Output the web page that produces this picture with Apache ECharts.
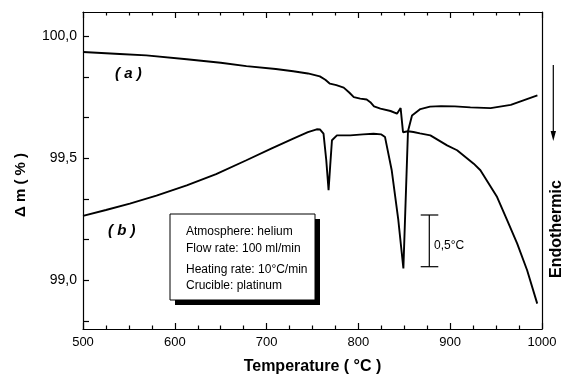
<!DOCTYPE html>
<html lang="en">
<head>
    <meta charset="UTF-8">
    <title>TG / DTA</title>
    <script src="https://cdn.jsdelivr.net/npm/echarts@6/dist/echarts.min.js"></script>
    <style>
        body { margin: 0; background: #fff; }
    </style>
</head>
<body>
<div id="main" style="width: 565px; height: 381px;"></div>
</body>
<script>
    // ---- data ----
    // curve (a): mass loss
    var tempA = [500, 540, 569, 613, 650, 678, 710, 729, 745, 758, 764, 769, 776, 784, 790, 795, 802, 809, 813, 817,
        824, 835, 842, 846, 848.6, 854, 858.4, 867.5, 878, 890, 905, 922, 944, 966, 995]
    var massA = [99.936, 99.928, 99.922, 99.906, 99.892, 99.878, 99.866, 99.857, 99.848, 99.836, 99.822, 99.806, 99.800,
        99.790, 99.770, 99.751, 99.745, 99.741, 99.730, 99.713, 99.704, 99.694, 99.683, 99.706, 99.607, 99.611, 99.676,
        99.702, 99.712, 99.714, 99.713, 99.709, 99.706, 99.719, 99.758]
    // curve (b): DTA trace drawn on the same axes
    var tempB = [500, 525, 551, 580, 613, 645, 678, 705, 729, 745, 754.6, 758.3, 762, 765, 767.5, 769.3, 771.2, 776.6,
        791, 805, 816.5, 825, 829, 836.3, 843.5, 849, 854, 860, 867, 878.4, 896.6, 907.5, 925.6, 932.9, 951.1, 962,
        973, 983.8, 994.8]
    var dtaB = [99.264, 99.288, 99.314, 99.347, 99.389, 99.435, 99.492, 99.540, 99.581, 99.607, 99.619, 99.618, 99.601,
        99.492, 99.369, 99.471, 99.574, 99.594, 99.594, 99.598, 99.601, 99.598, 99.587, 99.451, 99.246, 99.048, 99.611,
        99.608, 99.602, 99.594, 99.553, 99.533, 99.478, 99.451, 99.341, 99.246, 99.150, 99.041, 98.904]

    var xTickLabels = [500, 600, 700, 800, 900, 1000]
    var yLabelValues = [99.0, 99.5, 100.0]
    var yTickValues = [98.8333, 99.0, 99.1667, 99.3333, 99.5, 99.6667, 99.8333, 100.0]
    var boxLines = ['Atmosphere: helium', 'Flow rate: 100 ml/min', 'Heating rate: 10°C/min', 'Crucible: platinum']

    function zip(xs, ys) {
        return xs.map(function (x, i) { return [x, ys[i]] })
    }

    var font = 'Liberation Sans, Arial, sans-serif'
    var myChart = echarts.init(document.getElementById('main'))

    var xBase = {
        type: 'value',
        min: xTickLabels[0],
        max: xTickLabels[xTickLabels.length - 1],
        interval: 100,
        axisLine: { show: true, lineStyle: { color: '#000', width: 1.2 } },
        axisTick: { show: true, inside: true, length: 6, lineStyle: { color: '#000', width: 1.2 } },
        minorTick: { show: true, splitNumber: 4, length: 3.5, lineStyle: { color: '#000', width: 1.2 } },
        splitLine: { show: false }
    }

    var option = {
        animation: false,
        backgroundColor: '#fff',
        grid: { left: 83, right: 23, top: 12, bottom: 52 },
        xAxis: [
            Object.assign({}, xBase, {
                position: 'bottom',
                name: 'Temperature ( °C )',
                nameLocation: 'middle',
                nameGap: 30,
                nameTextStyle: { color: '#000', fontSize: 16, fontWeight: 'bold', fontFamily: font },
                axisLabel: {
                    color: '#000', fontSize: 13, margin: 7, fontFamily: font,
                    formatter: function (v) { return String(v) }
                }
            }),
            Object.assign({}, xBase, {
                position: 'top',
                axisLabel: { show: false }
            })
        ],
        yAxis: [
            {
                type: 'value',
                min: 98.8,
                max: 100.1,
                position: 'left',
                axisLine: { show: true, lineStyle: { color: '#000', width: 1.2 } },
                axisTick: { show: true, inside: true, length: 6, customValues: yTickValues, lineStyle: { color: '#000', width: 1.2 } },
                axisLabel: {
                    color: '#000', fontSize: 14, margin: 6, fontFamily: font,
                    customValues: yLabelValues,
                    formatter: function (v) { return v.toFixed(1).replace('.', ',') }
                },
                splitLine: { show: false }
            },
            {
                type: 'value',
                min: 98.8,
                max: 100.1,
                position: 'right',
                axisLine: { show: true, lineStyle: { color: '#000', width: 1.2 } },
                axisTick: { show: false },
                axisLabel: { show: false },
                splitLine: { show: false }
            }
        ],
        graphic: [
            // y axis title (sits a bit below the middle in the original)
            {
                type: 'text', x: 21, y: 185, rotation: Math.PI / 2,
                style: { text: 'Δ m ( % )', font: 'bold 15px ' + font, fill: '#000', align: 'center', verticalAlign: 'middle' }
            },
            // label (a) and (b)
            { type: 'text', left: 115, top: 66, style: { text: '( a )', font: 'italic bold 15px ' + font, fill: '#000' } },
            { type: 'text', left: 108, top: 223, style: { text: '( b )', font: 'italic bold 15px ' + font, fill: '#000' } },
            // conditions box with shadow
            { type: 'rect', shape: { x: 175, y: 219, width: 145, height: 86 }, style: { fill: '#000' } },
            { type: 'rect', shape: { x: 170, y: 214, width: 145, height: 86 }, style: { fill: '#fff', stroke: '#000', lineWidth: 1 } },
            { type: 'text', x: 186, y: 231.7, style: { text: boxLines[0], font: '12px ' + font, fill: '#000', verticalAlign: 'middle' } },
            { type: 'text', x: 186, y: 248.3, style: { text: boxLines[1], font: '12px ' + font, fill: '#000', verticalAlign: 'middle' } },
            { type: 'text', x: 186, y: 269.3, style: { text: boxLines[2], font: '12px ' + font, fill: '#000', verticalAlign: 'middle' } },
            { type: 'text', x: 186, y: 285.7, style: { text: boxLines[3], font: '12px ' + font, fill: '#000', verticalAlign: 'middle' } },
            // scale bar 0,5 °C
            { type: 'line', shape: { x1: 429.3, y1: 215, x2: 429.3, y2: 266.7 }, style: { stroke: '#000', lineWidth: 1.2 } },
            { type: 'line', shape: { x1: 420.7, y1: 215, x2: 438.3, y2: 215 }, style: { stroke: '#000', lineWidth: 1.2 } },
            { type: 'line', shape: { x1: 420.7, y1: 266.7, x2: 438.3, y2: 266.7 }, style: { stroke: '#000', lineWidth: 1.2 } },
            { type: 'text', x: 434, y: 246, style: { text: '0,5°C', font: '12px ' + font, fill: '#000', verticalAlign: 'middle' } },
            // endothermic arrow
            { type: 'line', shape: { x1: 553.3, y1: 65, x2: 553.3, y2: 133 }, style: { stroke: '#000', lineWidth: 1.2 } },
            { type: 'polygon', shape: { points: [[550.6, 131], [556, 131], [553.3, 141]] }, style: { fill: '#000' } },
            {
                type: 'text', x: 557, y: 229, rotation: Math.PI / 2,
                style: { text: 'Endothermic', font: 'bold 16px ' + font, fill: '#000', align: 'center', verticalAlign: 'middle' }
            }
        ],
        series: [
            {
                name: 'a',
                type: 'line',
                symbol: 'none',
                lineStyle: { color: '#000', width: 1.9 },
                data: zip(tempA, massA)
            },
            {
                name: 'b',
                type: 'line',
                symbol: 'none',
                lineStyle: { color: '#000', width: 1.9 },
                data: zip(tempB, dtaB)
            }
        ]
    };
    myChart.setOption(option);
</script>
</html>
